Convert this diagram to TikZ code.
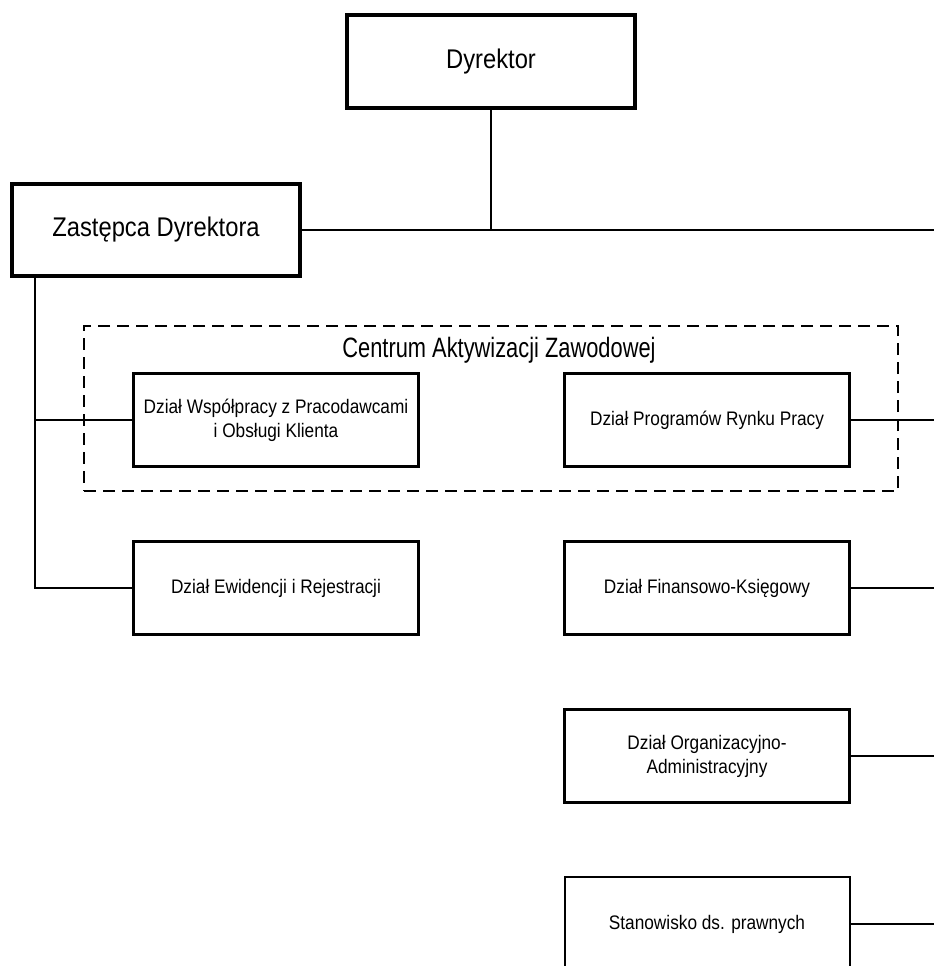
\documentclass[tikz,border=0pt]{standalone}
\usepackage{fontspec}
\setmainfont{Liberation Sans}
\newfontfamily\tallfont[FakeStretch=0.88]{Liberation Sans}
\newfontfamily\talltitlefont[FakeStretch=0.78]{Liberation Sans}
\usetikzlibrary{positioning}

\begin{document}
\begin{tikzpicture}[
            x = 1pt, y = -1pt, % pixel-like units, y going down
            node distance = 72pt, % gap between boxes
            line width = 1.3pt % connector style
        ]

        \tikzstyle{head}=[
            draw = black,
            line width = 4pt,
            fill = white,
            minimum width = 288pt,
            minimum height = 92pt,
            font = \tallfont\fontsize{27}{30}\selectfont
        ]
        \tikzstyle{dept}=[
            draw = black,
            line width = 3pt,
            fill = white,
            minimum width = 285pt,
            minimum height = 93pt,
            align = center,
            font = \tallfont\fontsize{19.6}{24}\selectfont
        ]
        \tikzstyle{group}=[
            draw = black,
            line width = 2pt,
            dash pattern = on 12pt off 7pt,
            minimum width = 814pt,
            minimum height = 165pt
        ]

        \useasboundingbox (0,0) rectangle (934,966);
        \coordinate (rim) at (934,0);
        \coordinate (trunk) at (35,0);

        \node[group] (caz) at (491,408.5) {};
        \node[anchor=base, font=\talltitlefont\fontsize{28}{30}\selectfont] (cazlabel)
            at ([xshift=8pt, yshift=-32pt]caz.north) {Centrum Aktywizacji Zawodowej};

        \node[head, minimum height=93pt] (dyr) at (491,61.5) {Dyrektor};
        \node[head] (zast) at (156,230) {Zastępca Dyrektora};

        \node[dept] (wsp) at (276,420) {Dział Współpracy z Pracodawcami\\i Obsługi Klienta};
        \node[dept] (ewid) [below=of wsp] {Dział Ewidencji i Rejestracji};
        \node[dept] (prog) [right=143pt of wsp] {Dział Programów Rynku Pracy};
        \node[dept] (fin) [below=of prog] {Dział Finansowo-Księgowy};
        \node[dept] (org) [below=of fin] {Dział Organizacyjno-\\Administracyjny};
        \node[dept, line width=2pt, minimum height=94pt] (stan) [below=of org] {Stanowisko ds. prawnych};

        \draw (dyr.south) -- (dyr.south |- zast.east);
        \draw (zast.east) -- (zast.east -| rim);
        \draw (trunk |- zast.south) -- (trunk |- ewid.west) -- (ewid.west);
        \draw (trunk |- wsp.west) -- (wsp.west);
        \draw (prog.east) -- (prog.east -| rim);
        \draw (fin.east) -- (fin.east -| rim);
        \draw (org.east) -- (org.east -| rim);
        \draw (stan.east) -- (stan.east -| rim);

  \end{tikzpicture}
\end{document}
